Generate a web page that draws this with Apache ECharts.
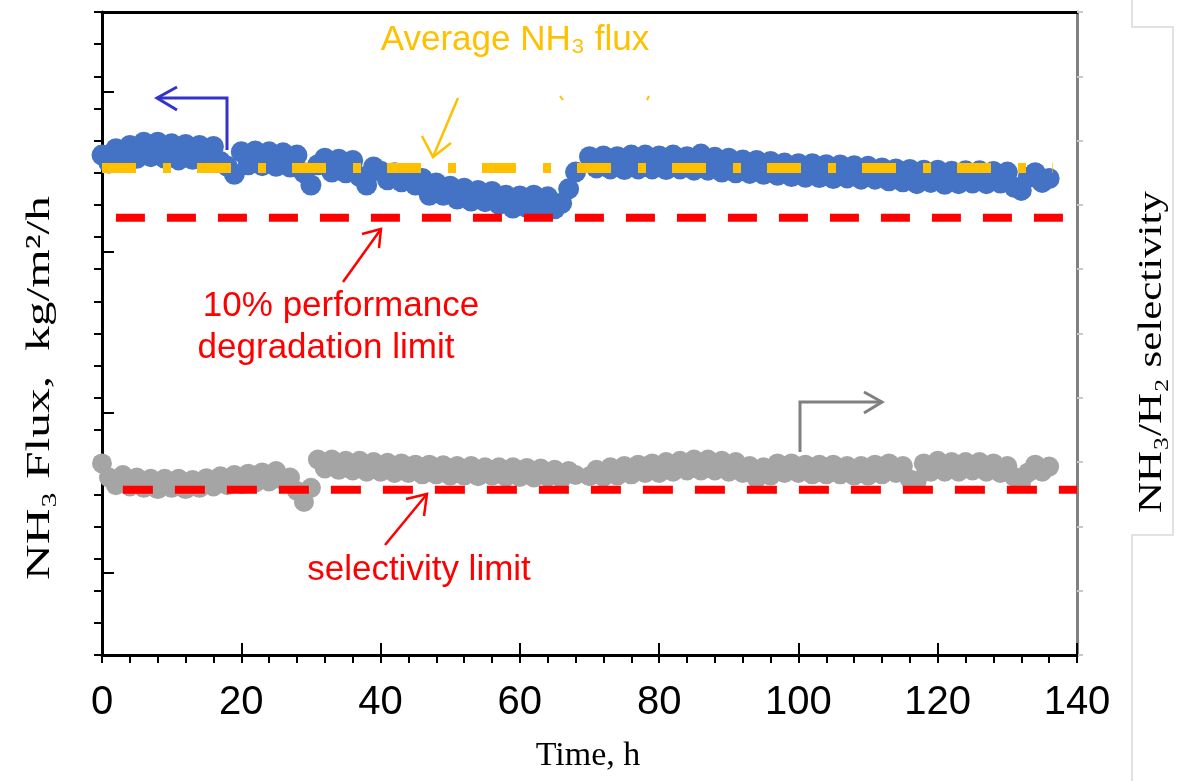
<!DOCTYPE html>
<html><head><meta charset="utf-8">
<script src="https://cdn.jsdelivr.net/npm/echarts@6/dist/echarts.min.js"></script>
<style>html,body{margin:0;padding:0;background:#fff}#c{width:1179px;height:781px}</style>
</head><body><div id="c"></div>
<script>
// ---- data ----
const xTickValues = [0, 20, 40, 60, 80, 100, 120, 140];
const hoursA = [0,1,2,3,4,5,6,7,8,9,10,11,12,13,14,15,16,17,18,19,20,21,22,23,24,25,26,27,28,29,30,31,32,33,34,35,36,37,38,39,40,41,42,43,44,45,46,47,48,49,50,51,52,53,54,55,56,57,58,59,60,61,62,63,64,65,66,67,68];
const hoursB = [70,71,72,73,74,75,76,77,78,79,80,81,82,83,84,85,86,87,88,89,90,91,92,93,94,95,96,97,98,99,100,101,102,103,104,105,106,107,108,109,110,111,112,113,114,115,116,117,118,119,120,121,122,123,124,125,126,127,128,129,130,131,132,133,134,135,136];
const fluxA = [15.55,15.30,15.75,15.35,15.85,15.45,15.95,15.50,15.95,15.45,
 15.90,15.40,15.88,15.42,15.85,15.40,15.82,15.35,15.20,14.95,
 15.65,15.25,15.68,15.22,15.65,15.20,15.62,15.18,15.55,15.00,
 14.62,15.25,15.45,15.02,15.42,15.00,15.38,14.88,14.62,15.18,
 15.05,14.78,15.00,14.72,14.95,14.62,14.82,14.30,14.68,14.30,
 14.58,14.18,14.52,14.12,14.45,14.10,14.42,14.02,14.30,13.90,
 14.28,13.92,14.30,13.95,14.25,13.88,14.05,14.50,15.02];
const fluxB = [15.50,15.15,15.52,15.12,15.50,15.10,15.55,15.12,15.55,15.12,
 15.52,15.10,15.55,15.12,15.50,15.08,15.58,15.08,15.48,15.02,
 15.45,15.00,15.40,14.98,15.38,14.95,15.35,14.92,15.30,14.88,
 15.28,14.86,15.28,14.85,15.25,14.82,15.24,14.84,15.22,14.80,
 15.20,14.80,15.15,14.75,15.12,14.72,15.10,14.66,15.08,14.70,
 15.08,14.64,15.05,14.66,15.06,14.68,15.06,14.66,15.04,14.68,
 15.02,14.55,14.45,14.85,15.00,14.70,14.82];
const selA = [2.98,2.76,2.64,2.80,2.62,2.76,2.60,2.74,2.58,2.74,
 2.60,2.74,2.58,2.72,2.60,2.75,2.62,2.78,2.64,2.80,
 2.66,2.82,2.68,2.84,2.70,2.86,2.72,2.76,2.55,2.38,
 2.60,3.04,2.90,3.04,2.88,3.02,2.87,3.02,2.85,3.00,
 2.85,2.99,2.83,2.98,2.83,2.96,2.81,2.96,2.81,2.95,
 2.79,2.94,2.79,2.94,2.78,2.92,2.79,2.92,2.77,2.92,
 2.77,2.91,2.76,2.90,2.77,2.88,2.75,2.86,2.80];
const selB = [2.78,2.88,2.77,2.92,2.79,2.94,2.81,2.96,2.83,2.98,
 2.83,3.00,2.85,3.02,2.87,3.04,2.87,3.04,2.87,3.02,
 2.85,3.00,2.83,2.94,2.75,2.92,2.79,2.98,2.83,2.98,
 2.83,2.96,2.81,2.96,2.81,2.96,2.81,2.94,2.79,2.94,
 2.79,2.96,2.81,2.98,2.83,2.94,2.73,2.71,2.98,2.85,
 3.02,2.85,3.00,2.85,3.00,2.87,3.00,2.85,2.98,2.83,
 2.94,2.77,2.69,2.84,2.96,2.85,2.93];
const avgFlux = 15.15;         // average NH3 flux
const avgSpan = [0, 136.5];
const fluxLimit = 13.6;        // 10% performance degradation limit
const fluxLimitSpan = [2, 140];
const selLimit = 2.57;         // selectivity limit
const selLimitSpan = [3, 140];
const innerTickValues = [2.57, 7.55, 12.53, 17.51];

// ---- build ----
const pair = (ts, vs) => ts.map((t, i) => [t, vs[i]]);
const fluxData = pair(hoursA, fluxA).concat(pair(hoursB, fluxB));
const selData = pair(hoursA, selA).concat(pair(hoursB, selB));
const hline = (span, v) => [[span[0], v], [span[1], v]];

const SANS = "'Liberation Sans', Arial, sans-serif";
const SERIF = "'Liberation Serif', 'Times New Roman', serif";
const BLUE = '#4472C4', GREY = '#A5A5A5', ORANGE = '#FFC000', RED = '#FF0000';

const chart = echarts.init(document.getElementById('c'), null, {renderer: 'canvas'});
chart.setOption({
  animation: false,
  backgroundColor: '#fff',
  grid: {left: 102, right: 102, top: 12, bottom: 126, containLabel: false},
  xAxis: [
    {type: 'value', position: 'bottom', min: 0, max: 140, interval: 20,
     axisLine: {show: true, onZero: false, lineStyle: {color: '#000', width: 3}},
     axisTick: {show: true, inside: true, length: 12, lineStyle: {color: '#000', width: 2}},
     axisLabel: {show: true, customValues: xTickValues, margin: 28, color: '#000', fontSize: 40, fontFamily: SANS},
     splitLine: {show: false}},
    {type: 'value', position: 'bottom', min: 0, max: 140, interval: 4,
     axisLine: {show: false},
     axisTick: {show: true, inside: false, length: 8, lineStyle: {color: '#000', width: 2}},
     axisLabel: {show: false}, splitLine: {show: false}},
    {type: 'value', position: 'top', min: 0, max: 140,
     axisLine: {show: true, onZero: false, lineStyle: {color: '#000', width: 3}},
     axisTick: {show: false}, axisLabel: {show: false}, splitLine: {show: false}}
  ],
  yAxis: [
    {type: 'value', position: 'left', min: 0, max: 20, interval: 1,
     axisLine: {show: true, onZero: false, lineStyle: {color: '#000', width: 3}},
     axisTick: {show: true, inside: false, length: 8, lineStyle: {color: '#000', width: 2}},
     axisLabel: {show: false}, splitLine: {show: false}},
    {type: 'value', position: 'right', min: 0, max: 10, interval: 1,
     axisLine: {show: true, onZero: false, lineStyle: {color: '#808080', width: 3}},
     axisTick: {show: true, inside: false, length: 6, lineStyle: {color: '#c8c8c8', width: 2}},
     axisLabel: {show: false}, splitLine: {show: false}},
    {type: 'value', position: 'left', min: 0, max: 20,
     axisLine: {show: false},
     axisTick: {show: true, inside: true, length: 12, customValues: innerTickValues, lineStyle: {color: '#000', width: 2}},
     axisLabel: {show: false}, splitLine: {show: false}}
  ],
  series: [
    {type: 'scatter', xAxisIndex: 0, yAxisIndex: 0, data: fluxData, symbol: 'circle', symbolSize: 21,
     itemStyle: {color: BLUE, opacity: 1, borderWidth: 0}, silent: true, z: 2},
    {type: 'scatter', xAxisIndex: 0, yAxisIndex: 1, data: selData, symbol: 'circle', symbolSize: 20,
     itemStyle: {color: GREY, opacity: 1, borderWidth: 0}, silent: true, z: 2},
    {type: 'line', xAxisIndex: 0, yAxisIndex: 0, data: hline(avgSpan, avgFlux), symbol: 'none',
     lineStyle: {color: ORANGE, width: 10, type: [34, 27, 8, 26]}, silent: true, z: 3},
    {type: 'line', xAxisIndex: 0, yAxisIndex: 0, data: hline(fluxLimitSpan, fluxLimit), symbol: 'none',
     lineStyle: {color: RED, width: 8, type: [29, 22]}, silent: true, z: 3},
    {type: 'line', xAxisIndex: 0, yAxisIndex: 1, data: hline(selLimitSpan, selLimit), symbol: 'none',
     lineStyle: {color: RED, width: 8, type: [30, 22]}, silent: true, z: 3}
  ],
  graphic: [
    {type: 'text', x: 40, y: 388, rotation: Math.PI / 2, scaleX: 1.5,
     style: {text: 'NH₃ Flux,  kg/m²/h', font: '33px ' + SERIF, fill: '#000', align: 'center', verticalAlign: 'middle', textAlign: 'center', textVerticalAlign: 'middle'}},
    {type: 'text', x: 1152, y: 352, rotation: Math.PI / 2, scaleX: 1.3,
     style: {text: 'NH₃/H₂ selectivity', font: '33px ' + SERIF, fill: '#000', align: 'center', verticalAlign: 'middle', textAlign: 'center', textVerticalAlign: 'middle'}},
    {type: 'text', x: 588, y: 756,
     style: {text: 'Time, h', font: '34px ' + SERIF, fill: '#000', align: 'center', verticalAlign: 'middle', textAlign: 'center', textVerticalAlign: 'middle'}},
    {type: 'text', x: 515, y: 40,
     style: {text: 'Average NH₃ flux', font: '35px ' + SANS, fill: ORANGE, align: 'center', verticalAlign: 'middle', textAlign: 'center', textVerticalAlign: 'middle'}},
    {type: 'text', x: 341, y: 306,
     style: {text: '10% performance', font: '35px ' + SANS, fill: RED, align: 'center', verticalAlign: 'middle', textAlign: 'center', textVerticalAlign: 'middle'}},
    {type: 'text', x: 326, y: 348,
     style: {text: 'degradation limit', font: '35px ' + SANS, fill: RED, align: 'center', verticalAlign: 'middle', textAlign: 'center', textVerticalAlign: 'middle'}},
    {type: 'text', x: 419, y: 570,
     style: {text: 'selectivity limit', font: '35px ' + SANS, fill: RED, align: 'center', verticalAlign: 'middle', textAlign: 'center', textVerticalAlign: 'middle'}},
    // blue bent arrow
    {type: 'polyline', shape: {points: [[227, 150], [227, 98], [157, 98]]}, style: {stroke: '#3333CC', lineWidth: 3, fill: null}},
    {type: 'polyline', shape: {points: [[177, 87], [157, 98], [177, 110]]}, style: {stroke: '#3333CC', lineWidth: 3, fill: null}},
    // orange arrow
    {type: 'polyline', shape: {points: [[458, 98], [433, 157]]}, style: {stroke: ORANGE, lineWidth: 2.5, fill: null}},
    {type: 'polyline', shape: {points: [[422, 136], [433, 157], [451, 143]]}, style: {stroke: ORANGE, lineWidth: 2.5, fill: null}},
    {type: 'polyline', shape: {points: [[560, 96], [563, 100]]}, style: {stroke: ORANGE, lineWidth: 2, fill: null}},
    {type: 'polyline', shape: {points: [[649, 96], [647, 100]]}, style: {stroke: ORANGE, lineWidth: 2, fill: null}},
    // red arrow (upper)
    {type: 'polyline', shape: {points: [[343, 282], [381, 229]]}, style: {stroke: RED, lineWidth: 2.5, fill: null}},
    {type: 'polyline', shape: {points: [[362, 234], [381, 229], [379, 248]]}, style: {stroke: RED, lineWidth: 2.5, fill: null}},
    // red arrow (lower)
    {type: 'polyline', shape: {points: [[385, 545], [427, 494]]}, style: {stroke: RED, lineWidth: 2.5, fill: null}},
    {type: 'polyline', shape: {points: [[406, 499], [427, 494], [424, 516]]}, style: {stroke: RED, lineWidth: 2.5, fill: null}},
    // grey bent arrow
    {type: 'polyline', shape: {points: [[800, 452], [800, 402], [882, 402]]}, style: {stroke: '#808080', lineWidth: 3, fill: null}},
    {type: 'polyline', shape: {points: [[864, 392], [882, 402], [864, 413]]}, style: {stroke: '#808080', lineWidth: 3, fill: null}},
    // faint text-box frame around right title
    {type: 'polyline', shape: {points: [[1132, 0], [1132, 27], [1173, 27], [1173, 535], [1132, 535], [1132, 781]]}, style: {stroke: '#d9d9d9', lineWidth: 1.5, fill: null}}
  ]
});
</script></body></html>
